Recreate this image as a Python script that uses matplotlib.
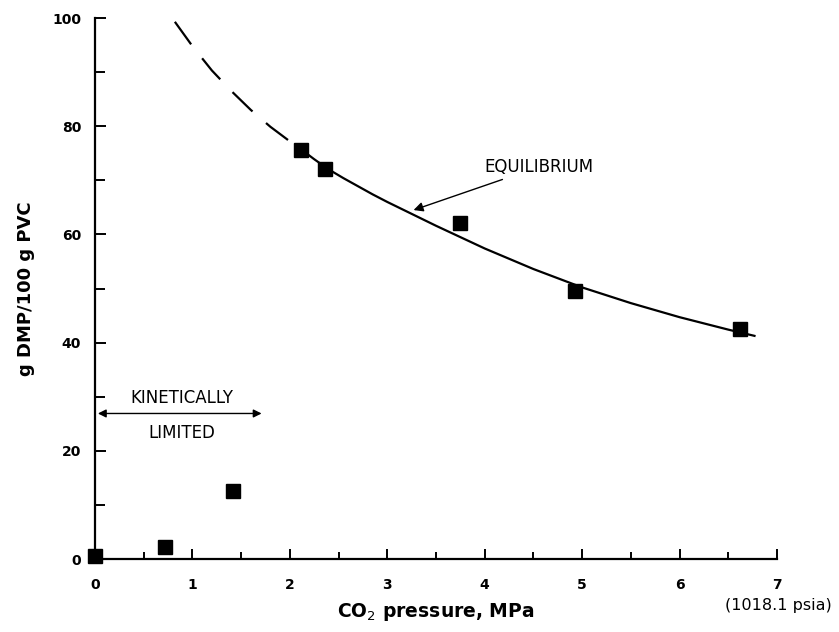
import matplotlib
matplotlib.use("Agg")
import matplotlib.pyplot as plt
from matplotlib.ticker import MultipleLocator

plt.rcParams['font.family'] = ['DejaVu Sans']

# Measured data points (CO2 pressure MPa, g DMP / 100 g PVC)
pressure = [0.0, 0.72, 1.42, 2.11, 2.36, 3.75, 4.93, 6.62]
uptake = [0.5, 2.2, 12.6, 75.6, 72.0, 62.2, 49.5, 42.5]

# Equilibrium curve: dashed (extrapolated) part
eq_dash_x = [0.82, 1.0, 1.2, 1.4, 1.6, 1.8, 2.0, 2.11]
eq_dash_y = [99.3, 94.8, 90.3, 86.5, 83.0, 79.9, 77.2, 75.8]
# solid part
eq_x = [2.11, 2.25, 2.4, 2.55, 2.7, 2.85, 3.0, 3.25, 3.5, 3.75, 4.0, 4.5,
        5.0, 5.5, 6.0, 6.5, 6.78]
eq_y = [75.8, 73.9, 72.0, 70.4, 68.9, 67.4, 66.0, 63.8, 61.6, 59.5, 57.4, 53.6,
        50.2, 47.3, 44.7, 42.4, 41.2]

x_ticks = [0, 1, 2, 3, 4, 5, 6, 7]
y_ticks = [0, 20, 40, 60, 80, 100]

fig = plt.figure(figsize=(8.39, 6.32), dpi=100)
ax = fig.add_axes([0.1132, 0.1155, 0.8129, 0.856])

ax.plot(eq_x, eq_y, color='black', lw=1.6, solid_capstyle='butt',
        solid_joinstyle='round')
ln, = ax.plot(eq_dash_x, eq_dash_y, color='black', lw=1.6, dash_capstyle='butt',
              dash_joinstyle='round')
ln.set_dashes([12.5, 8])

ax.plot(pressure, uptake, 's', color='black', ms=10.5, clip_on=False, zorder=5)

ax.set_xlim(0, 7)
ax.set_ylim(0, 100)
ax.set_xticks(x_ticks)
ax.set_yticks(y_ticks)
ax.xaxis.set_minor_locator(MultipleLocator(0.5))
ax.yaxis.set_minor_locator(MultipleLocator(10))

for s in ['top', 'right']:
    ax.spines[s].set_visible(False)
for s in ['left', 'bottom']:
    ax.spines[s].set_linewidth(1.6)

ax.tick_params(axis='both', which='both', direction='in', width=1.4)
ax.tick_params(axis='x', which='major', length=7, pad=14)
ax.tick_params(axis='x', which='minor', length=5)
ax.tick_params(axis='y', which='major', length=8, pad=10)
ax.tick_params(axis='y', which='minor', length=7)
for lab in ax.get_xticklabels() + ax.get_yticklabels():
    lab.set_fontsize(10)
    lab.set_fontweight('bold')

ax.set_ylabel('g DMP/100 g PVC', fontsize=13, fontweight='bold', labelpad=12)
ax.set_xlabel('CO$_2$ pressure, MPa', fontsize=13.5, fontweight='bold',
              labelpad=6)
fig.text(0.928, 0.042, '(1018.1 psia)', fontsize=11.5, ha='center', va='center')

# Annotations
ax.annotate('EQUILIBRIUM', xy=(3.27, 64.5), xytext=(4.0, 72.5),
            fontsize=12, ha='left', va='center',
            arrowprops=dict(arrowstyle='-|>', color='black', lw=1.0,
                            mutation_scale=14, shrinkA=2, shrinkB=0))
ax.annotate('', xy=(0.03, 26.9), xytext=(1.71, 26.9),
            arrowprops=dict(arrowstyle='<|-|>', color='black', lw=1.0,
                            mutation_scale=12, shrinkA=0, shrinkB=0))
ax.text(0.89, 29.8, 'KINETICALLY', fontsize=12, ha='center', va='center')
ax.text(0.89, 23.3, 'LIMITED', fontsize=12, ha='center', va='center')

fig.savefig('out.png', dpi=100)
